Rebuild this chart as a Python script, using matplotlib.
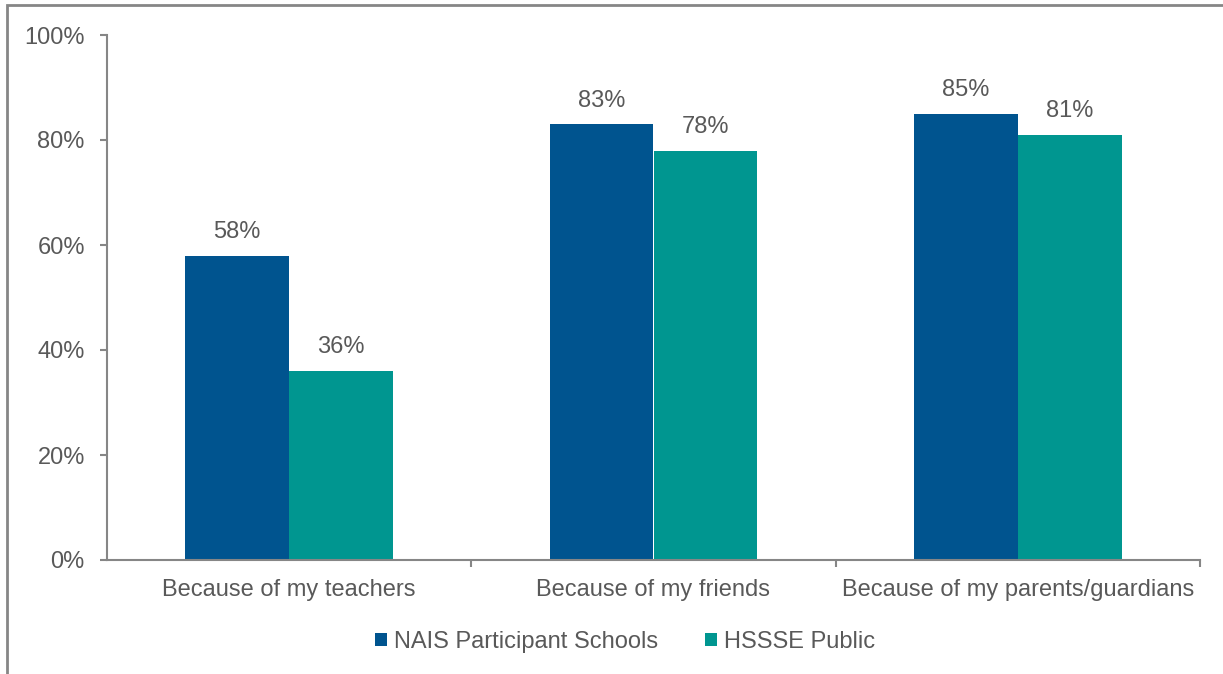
import numpy as np
import matplotlib.pyplot as plt
from matplotlib.patches import Rectangle

categories = ["Because of my teachers", "Because of my friends", "Because of my parents/guardians"]
nais = [58, 83, 85]
hssse = [36, 78, 81]
series_names = ["NAIS Participant Schools", "HSSSE Public"]
colors = ["#00548F", "#009690"]

plt.rcParams['font.family'] = ['Liberation Sans', 'DejaVu Sans']
text_color = "#595959"
axis_color = "#868686"
fs = 17

fig = plt.figure(figsize=(12.23, 6.74), dpi=100)
ax = fig.add_axes([107 / 1223, 1 - 560 / 674, (1200 - 107) / 1223, (560 - 35) / 674])

x = np.arange(len(categories))
w = 0.285
b1 = ax.bar(x - w / 2, nais, w, color=colors[0], label=series_names[0])
b2 = ax.bar(x + w / 2, hssse, w, color=colors[1], label=series_names[1])

# value labels above each bar
for bars, vals in [(b1, nais), (b2, hssse)]:
    for bar, v in zip(bars, vals):
        ax.text(bar.get_x() + bar.get_width() / 2, v + 2.4, f"{v}%",
                ha="center", va="bottom", fontsize=fs, color=text_color)

ax.set_xlim(-0.5, 2.5)
ax.set_ylim(0, 100)
ax.set_yticks(np.arange(0, 101, 20))
ax.set_yticklabels([f"{t}%" for t in range(0, 101, 20)])
ax.set_xticks(x)
ax.set_xticklabels(categories)
ax.set_xticks([0.5, 1.5, 2.5], minor=True)

for s in ["top", "right"]:
    ax.spines[s].set_visible(False)
for s in ["left", "bottom"]:
    ax.spines[s].set_color(axis_color)
    ax.spines[s].set_linewidth(1.5)

ax.tick_params(axis="y", colors=axis_color, labelcolor=text_color, labelsize=fs,
               length=5, width=1.5, pad=11)
ax.tick_params(axis="x", which="major", length=0, labelcolor=text_color, labelsize=fs, pad=14)
ax.tick_params(axis="x", which="minor", length=5, width=1.5, color=axis_color)

leg = ax.legend(loc="upper center", bbox_to_anchor=(0.474, -0.095), ncol=2, frameon=False,
                fontsize=fs, handlelength=0.5, handleheight=0.5, handletextpad=0.3,
                columnspacing=2.0)
for t in leg.get_texts():
    t.set_color(text_color)

# outer frame (only left and top edges visible, like the source crop)
fig.patches.append(Rectangle((7 / 1223, -0.1), 1.2, 1 - 5 / 674 + 0.1,
                             transform=fig.transFigure, fill=False,
                             edgecolor=axis_color, linewidth=2))

fig.savefig("out.png", dpi=100)
